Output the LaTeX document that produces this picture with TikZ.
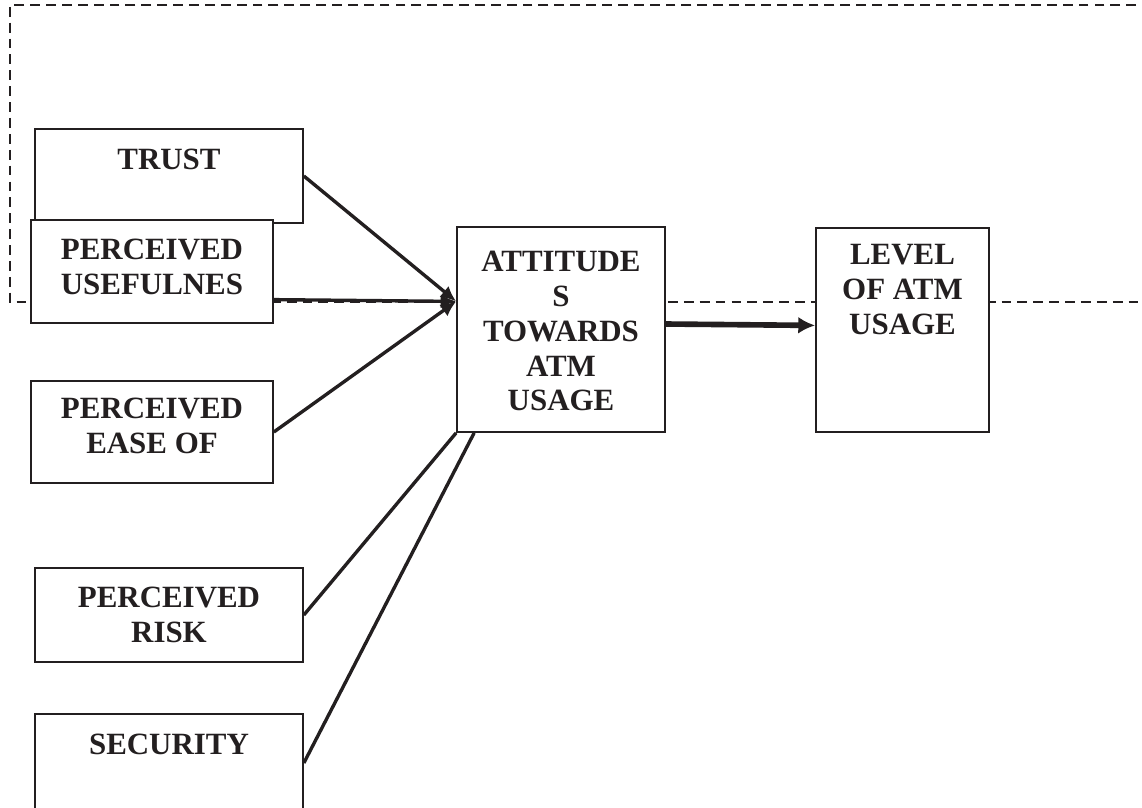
\documentclass[tikz,border=0pt]{standalone}
\usepackage{fontspec}
\setmainfont{Liberation Serif}
\usepackage{xcolor}
\usetikzlibrary{positioning,arrows.meta}
\definecolor{ink}{RGB}{35,31,32}

\begin{document}
\begin{tikzpicture}[
    box/.style={draw=ink, line width=1.2pt, fill=white, inner sep=0pt},
    boxtext/.style={font=\fontsize{22}{24.7}\selectfont\bfseries, text=ink,
      align=center, inner sep=0pt, anchor=north},
    feed/.style={draw=ink, line width=2.4pt, -{Latex[length=11pt,width=10pt]}},
    link/.style={draw=ink, line width=2.4pt},
    border/.style={draw=ink, line width=1.2pt, dash pattern=on 7pt off 4.3pt}
  ]
    \useasboundingbox (0,0) rectangle (28.55,-20.175);
    % dashed frame
    \coordinate (fa) at (28.8,-0.125);
    \coordinate (fb) at (0.25,-0.125);
    \coordinate (fc) at (0.25,-7.55);
    \coordinate (fd) at (28.8,-7.55);
    \draw[border] (fa) -- (fb) -- (fc) -- (fd);
    % factor boxes
    \node[box, minimum width=6.7cm, minimum height=2.35cm] (trust) at (4.225,-4.4) {};
    \node[box, minimum width=6.05cm, minimum height=2.575cm] (usef) at (3.8,-6.7875) {};
    \node[box, minimum width=6.05cm, minimum height=2.55cm] (ease) at (3.8,-10.8) {};
    \node[box, minimum width=6.7cm, minimum height=2.35cm] (risk) at (4.225,-15.375) {};
    \node[box, minimum width=6.7cm, minimum height=2.45cm] (sec) at (4.225,-19.075) {};
    \node[boxtext] (trustT) at ([yshift=-0.525cm]trust.north) {TRUST};
    \node[boxtext] (usefT) at ([yshift=-0.5cm]usef.north) {PERCEIVED\\USEFULNES};
    \node[boxtext] (easeT) at ([yshift=-0.45cm]ease.north) {PERCEIVED\\EASE OF};
    \node[boxtext] (riskT) at ([yshift=-0.5cm]risk.north) {PERCEIVED\\RISK};
    \node[boxtext] (secT) at ([yshift=-0.525cm]sec.north) {SECURITY};
    % attitude and usage
    \node[box, minimum width=5.2cm, minimum height=5.125cm] (att) at (14.025,-8.2375) {};
    \node[box, minimum width=4.325cm, minimum height=5.1cm] (level) at (22.5625,-8.25) {};
    \node[boxtext] (attT) at ([yshift=-0.625cm]att.north) {ATTITUDE\\S\\TOWARDS\\ATM\\USAGE};
    \node[boxtext] (levelT) at ([yshift=-0.425cm]level.north) {LEVEL\\OF ATM\\USAGE};
    % connectors
    \draw[feed] (trust.east) -- (att.165);
    \draw[feed] (usef.-13) -- (att.165);
    \draw[feed] (ease.east) -- (att.165);
    \draw[link] (risk.east) -- (att.south west);
    \draw[link] (sec.east) -- ([xshift=0.45cm]att.south west);
    \draw[feed, line width=4pt, -{Latex[length=12pt,width=12pt]}] (att.3) -- (level.177);
\end{tikzpicture}
\end{document}
